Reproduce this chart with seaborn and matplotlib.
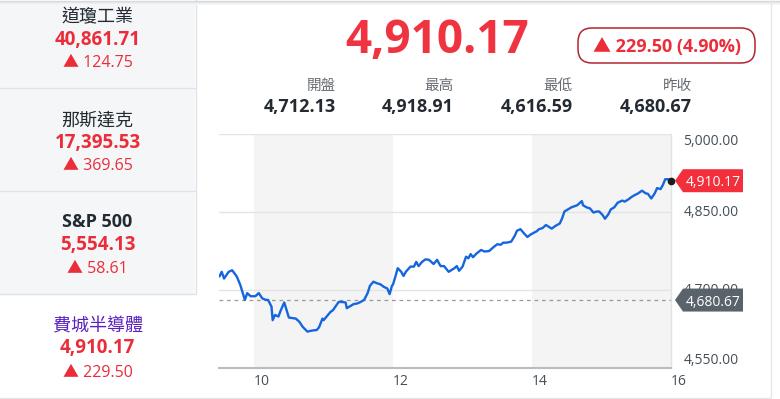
import numpy as np
import pandas as pd
import matplotlib
matplotlib.use("Agg")
import matplotlib.pyplot as plt
import seaborn as sns
from matplotlib import font_manager
from matplotlib.patches import Rectangle, Polygon, FancyBboxPatch
from matplotlib.transforms import IdentityTransform

sns.set_style("white")
plt.rcParams['font.family'] = ['Open Sans', 'Noto Sans CJK TC', 'DejaVu Sans']

# ---- data ----
minutes = [0, 2, 4, 8, 11, 15, 18, 22, 24, 27, 31, 34, 37, 40, 42, 45, 46, 48, 51, 53,
           56, 60, 66, 69, 72, 76, 80, 84, 86, 89, 90, 96, 98, 103, 106, 109, 110, 113,
           116, 119, 122, 125, 128, 130, 133, 136, 139, 142, 145, 147, 149, 150, 152,
           154, 157, 159, 161, 165, 168, 170, 172, 175, 178, 181, 185, 188, 191, 194,
           198, 203, 205, 207, 210, 213, 215, 217, 219, 222, 226, 229, 233, 237, 240,
           243, 245, 248, 252, 255, 257, 260, 263, 266, 269, 274, 276, 279, 282, 287,
           290, 294, 296, 298, 301, 304, 309, 313, 314, 317, 320, 323, 326, 328, 331,
           333, 336, 338, 341, 344, 348, 350, 353, 356, 359, 361, 365, 368, 370, 373,
           376, 378, 381, 383, 385, 388, 390]
prices = [4726, 4735, 4722, 4735, 4738, 4726, 4710, 4681, 4694, 4688, 4688, 4694, 4684,
          4681, 4681, 4668, 4642, 4652, 4649, 4661, 4676, 4647, 4645, 4639, 4629, 4620,
          4622, 4623, 4628, 4645, 4642, 4658, 4661, 4677, 4677, 4676, 4665, 4669, 4673,
          4674, 4677, 4681, 4694, 4708, 4716, 4713, 4711, 4706, 4703, 4692, 4708, 4711,
          4726, 4742, 4735, 4727, 4735, 4745, 4745, 4754, 4746, 4754, 4759, 4758, 4750,
          4758, 4746, 4746, 4735, 4742, 4746, 4737, 4745, 4764, 4761, 4769, 4763, 4770,
          4777, 4774, 4775, 4783, 4788, 4787, 4791, 4791, 4793, 4804, 4814, 4817, 4809,
          4802, 4807, 4813, 4817, 4819, 4825, 4818, 4823, 4828, 4838, 4851, 4855, 4859,
          4863, 4871, 4863, 4859, 4857, 4849, 4851, 4851, 4844, 4837, 4846, 4855, 4859,
          4868, 4872, 4870, 4874, 4879, 4883, 4885, 4891, 4886, 4885, 4876, 4886, 4896,
          4894, 4902, 4913, 4913, 4910.17]

last_price = 4910.17
prev_close = 4680.67
change = 229.50
change_pct = 4.90
stat_names = ['開盤', '最高', '最低', '昨收']
stat_values = [4712.13, 4918.91, 4616.59, 4680.67]

side_names = ['道瓊工業', '那斯達克', 'S&P 500', '費城半導體']
side_prices = [40861.71, 17395.53, 5554.13, 4910.17]
side_changes = [124.75, 369.65, 58.61, 229.50]

ytick_vals = [4550, 4700, 4850, 5000]
xtick_vals = [10, 12, 14, 16]
shade_bands = [(10, 12), (14, 16)]

RED = '#eb2d3a'
DARK = '#232a31'
GRAY = '#5b636a'
PURPLE = '#5b20bf'
BLUE = '#1565df'

W, H = 780, 399
fig = plt.figure(figsize=(W / 100, H / 100), dpi=100)


def fx(x):
    return x / W


def fy(y):
    return 1 - y / H


def hline(x0, x1, y, color, lw=1.0):
    fig.add_artist(plt.Line2D([fx(x0), fx(x1)], [fy(y), fy(y)], transform=fig.transFigure,
                              color=color, lw=lw))


def vline(x, y0, y1, color, lw=1.0):
    fig.add_artist(plt.Line2D([fx(x), fx(x)], [fy(y0), fy(y1)], transform=fig.transFigure,
                              color=color, lw=lw))


names = {f.name for f in font_manager.fontManager.ttflist}
if 'Liberation Sans Narrow' in names:
    big_family, big_size = ['Liberation Sans Narrow'], 38
else:
    big_family, big_size = ['Open Sans'], 33

# ---- sidebar ----
cell_edges = [4, 87.5, 190.5, 293.5, 398]
for i in range(3):
    y0, y1 = cell_edges[i], cell_edges[i + 1]
    fig.add_artist(Rectangle((0, fy(y1)), fx(195), (y1 - y0) / H, transform=fig.transFigure,
                             facecolor='#f5f6f8', edgecolor='none'))
    hline(0, 195, y1, '#dfe3e8')
vline(195.5, 0, 293.5, '#dfe3e8')
hline(0, 770, 398, '#e3e6ea')

name_base = [22, 125.5, 226.7, 331.5]
price_base = [45, 147.7, 250, 353.3]
chg_base = [66.7, 170, 273.3, 376.7]
for i in range(4):
    ncol = PURPLE if i == 3 else DARK
    nw = 'bold' if side_names[i].startswith('S') else 'normal'
    fig.text(fx(97.5), fy(name_base[i]), side_names[i], ha='center', va='baseline',
             fontsize=13, color=ncol, weight=nw)
    fig.text(fx(97.5), fy(price_base[i]), f"{side_prices[i]:,.2f}", ha='center',
             va='baseline', fontsize=13.5, color=RED, weight='bold')
    fig.text(fx(97.5), fy(chg_base[i]), f"▲ {side_changes[i]:,.2f}", ha='center',
             va='baseline', fontsize=11.5, color=RED)

# top shadow and right border of main card
for k, c in enumerate(['#d6d8db', '#e2e4e6', '#eceef0', '#f5f6f7']):
    hline(0, 780, k + 0.5, c, lw=1.0)
vline(770.5, 0, 399, '#e6e8eb')

# ---- header ----
fig.text(fx(437), fy(53), f"{last_price:,.2f}", ha='center', va='baseline',
         fontsize=big_size, color='#f03340', weight='bold', family=big_family)
fig.add_artist(FancyBboxPatch((578, H - 63), 177, 35, transform=IdentityTransform(),
                              boxstyle='round,pad=0,rounding_size=14', facecolor='none',
                              edgecolor='#b3242f', lw=1.1))
fig.text(fx(667), fy(51.7), f"▲ {change:.2f} ({change_pct:.2f}%)", ha='center',
         va='baseline', fontsize=13, color=RED, weight='bold')

stat_x = [336, 454, 573, 692]
for sx, nm, val in zip(stat_x, stat_names, stat_values):
    fig.text(fx(sx), fy(90), nm, ha='right', va='baseline', fontsize=10.5, color='#666b70')
    fig.text(fx(sx), fy(111.7), f"{val:,.2f}", ha='right', va='baseline', fontsize=13,
             color=DARK, weight='bold')

# ---- chart ----
ax = fig.add_axes([fx(219.4), fy(368), (671 - 219.4) / W, (368 - 134) / H])
df = pd.DataFrame({'hour': 9.5 + np.array(minutes) / 60.0, 'price': prices})
for a, b in shade_bands:
    ax.axvspan(a, b, color='#f4f4f4', zorder=0, lw=0)
ax.axhline(prev_close, color='#9a9a9a', ls=(0, (3, 3)), lw=0.9, zorder=1)
sns.lineplot(data=df, x='hour', y='price', ax=ax, color=BLUE, lw=1.7, zorder=3)
ax.plot([df['hour'].iloc[-1]], [df['price'].iloc[-1]], 'o', color='#1d1d1d', ms=4.5,
        zorder=4, clip_on=False)

ax.set_xlim(9.5, 16)
ax.set_ylim(ytick_vals[0], ytick_vals[-1])
ax.set_xticks(xtick_vals)
ax.set_xticklabels([str(v) for v in xtick_vals])
ax.set_yticks(ytick_vals)
ax.set_yticklabels([f"{v:,.2f}" for v in ytick_vals])
ax.yaxis.tick_right()
ax.set_xlabel('')
ax.set_ylabel('')
ax.grid(axis='y', color='#e4e4e4', lw=1.0)
ax.grid(axis='x', visible=False)
ax.set_axisbelow(True)
ax.tick_params(axis='both', length=0, labelsize=10, colors='#464e56')
ax.tick_params(axis='y', pad=9)
ax.tick_params(axis='x', pad=4)
for lab in ax.get_xticklabels():
    lab.set_ha('left')
ylabs = ax.get_yticklabels()
for i, lab in enumerate(ylabs):
    lab.set_va('bottom' if i == 0 else ('top' if i == len(ylabs) - 1 else 'center'))
for side in ['left', 'top']:
    ax.spines[side].set_visible(False)
ax.spines['bottom'].set_color('#b9bcc0')
ax.spines['bottom'].set_linewidth(1.5)
ax.spines['right'].set_color('#e0e2e5')
ax.spines['right'].set_linewidth(1.0)

# price tags at the right edge
for val, col in [(last_price, '#f22f3b'), (prev_close, '#5b636a')]:
    px, py = ax.transData.transform((16, val))
    verts = [(px + 4, py), (px + 12, py + 11.5), (px + 72, py + 11.5),
             (px + 72, py - 11.5), (px + 12, py - 11.5)]
    fig.add_artist(Polygon(verts, closed=True, transform=IdentityTransform(),
                           facecolor=col, edgecolor='none', zorder=5))
    fig.text(px + 42, py, f"{val:,.2f}", transform=IdentityTransform(), ha='center',
             va='center_baseline', fontsize=10, color='white', zorder=6)

fig.savefig('out.png', dpi=100)
